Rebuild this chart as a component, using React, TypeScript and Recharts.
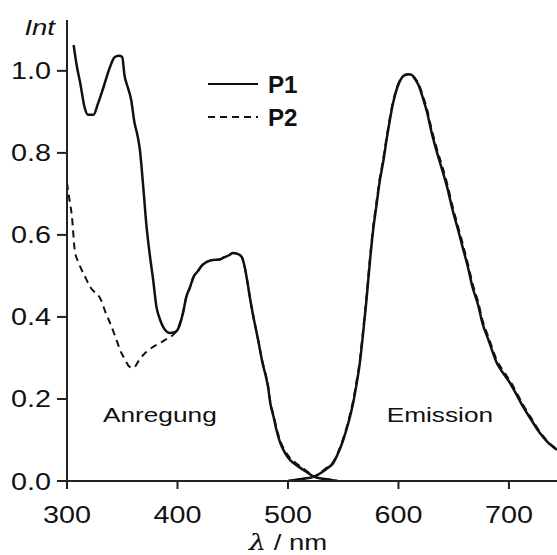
import React from "react";
import { LineChart, Line, XAxis, YAxis, ReferenceDot } from "recharts";

// excitation spectra (Anregung)
const p1ExWl = [306, 309, 312, 316, 319, 324, 328, 333, 339, 343, 347, 350, 352, 355, 358, 361, 364, 366, 369, 372, 375, 378, 381, 384, 387, 390, 393, 397, 400, 405, 408, 411, 415, 418, 422, 427, 432, 438, 442, 447, 450, 454, 458, 461, 463, 466, 468, 471, 473, 477, 480, 482, 484, 487, 490, 493, 497, 502, 508, 514, 519, 524, 530, 535, 540, 545];
const p1Ex = [1.063, 1.01, 0.97, 0.91, 0.893, 0.893, 0.92, 0.96, 1.01, 1.033, 1.037, 1.034, 0.99, 0.96, 0.93, 0.875, 0.84, 0.807, 0.717, 0.62, 0.55, 0.49, 0.424, 0.395, 0.376, 0.365, 0.361, 0.362, 0.368, 0.41, 0.449, 0.47, 0.5, 0.51, 0.525, 0.535, 0.539, 0.54, 0.545, 0.551, 0.556, 0.554, 0.547, 0.52, 0.49, 0.44, 0.41, 0.37, 0.344, 0.287, 0.255, 0.229, 0.19, 0.156, 0.12, 0.093, 0.07, 0.051, 0.038, 0.027, 0.018, 0.01, 0.006, 0.004, 0.002, 0];

const p2ExWl = [300, 302, 304.5, 307, 310, 312, 316, 321, 325, 328, 331, 335, 339, 344, 348, 352, 357, 360, 366, 372, 378, 384, 391, 398, 405, 408, 411, 415, 418, 422, 427, 432, 438, 442, 447, 450, 454, 458, 461, 463, 466, 468, 471, 473, 477, 480, 482, 484, 487, 490, 493, 497, 502, 508, 514, 519, 524, 530, 535, 540, 545];
const p2Ex = [0.727, 0.69, 0.644, 0.563, 0.535, 0.522, 0.5, 0.473, 0.46, 0.454, 0.44, 0.41, 0.385, 0.35, 0.32, 0.298, 0.278, 0.276, 0.298, 0.315, 0.327, 0.336, 0.348, 0.362, 0.41, 0.449, 0.47, 0.5, 0.51, 0.525, 0.535, 0.539, 0.54, 0.545, 0.551, 0.556, 0.554, 0.547, 0.52, 0.49, 0.44, 0.41, 0.37, 0.344, 0.29, 0.258, 0.232, 0.193, 0.16, 0.125, 0.098, 0.075, 0.056, 0.042, 0.03, 0.02, 0.011, 0.006, 0.004, 0.002, 0];

// emission spectra
const emWl = [500, 505, 510, 515, 520, 525, 530, 535, 541, 545, 550, 555, 559, 562, 565, 568, 571, 574, 577, 580, 583, 586, 590, 595, 599, 603, 606, 609, 612, 615, 618, 622, 626, 630, 635, 640, 644, 649, 654, 658, 663, 667, 672, 676, 682, 689, 695, 701, 707, 713, 720, 728, 735, 743.5];
const p1Em = [0, 0.002, 0.004, 0.006, 0.008, 0.012, 0.02, 0.03, 0.044, 0.065, 0.1, 0.145, 0.19, 0.235, 0.287, 0.36, 0.44, 0.53, 0.61, 0.67, 0.73, 0.775, 0.845, 0.92, 0.96, 0.983, 0.99, 0.992, 0.99, 0.98, 0.966, 0.935, 0.898, 0.85, 0.8, 0.755, 0.717, 0.661, 0.612, 0.571, 0.52, 0.473, 0.43, 0.385, 0.34, 0.288, 0.262, 0.239, 0.21, 0.18, 0.15, 0.117, 0.095, 0.076];
const p2Em = [0, 0.002, 0.004, 0.006, 0.008, 0.013, 0.022, 0.032, 0.047, 0.068, 0.104, 0.15, 0.196, 0.242, 0.294, 0.368, 0.448, 0.538, 0.618, 0.678, 0.737, 0.782, 0.85, 0.924, 0.962, 0.984, 0.99, 0.992, 0.99, 0.982, 0.97, 0.94, 0.905, 0.858, 0.808, 0.764, 0.726, 0.67, 0.62, 0.58, 0.528, 0.482, 0.438, 0.393, 0.347, 0.295, 0.268, 0.244, 0.215, 0.185, 0.154, 0.12, 0.097, 0.077];

const xTicks = [300, 400, 500, 600, 700];
const yTicks = [0, 0.2, 0.4, 0.6, 0.8, 1.0];

const toRows = (xs: number[], ys: number[]) => xs.map((x, i) => ({ x, y: ys[i] }));

const FONT = "'Liberation Sans', Arial, Helvetica, sans-serif";
const INK = "#111";
const STRETCH = 1.25;

function XTick({ x, y, payload }: any) {
  return (
    <text transform={`translate(${x},${y + 34}) scale(${STRETCH},1)`} textAnchor="middle" fontSize={23} fontFamily={FONT} fill={INK}>
      {payload.value}
    </text>
  );
}

function YTick({ x, y, payload }: any) {
  return (
    <text transform={`translate(${x},${y + 8.5}) scale(${STRETCH},1)`} textAnchor="end" fontSize={23} fontFamily={FONT} fill={INK}>
      {Number(payload.value).toFixed(1)}
    </text>
  );
}

function AnnoLabel({ viewBox, value }: any) {
  const { x, y, width = 0, height = 0 } = viewBox || {};
  return (
    <text transform={`translate(${x + width / 2},${y + height / 2}) scale(${STRETCH},1)`} textAnchor="middle" fontSize={21} fontFamily={FONT} fill={INK}>
      {value}
    </text>
  );
}

function IntLabel({ viewBox }: any) {
  const { x, y, width } = viewBox || {};
  return (
    <text transform={`translate(${x + width - 12},${y + 15}) scale(${STRETCH},1)`} textAnchor="end" fontSize={22} fontStyle="italic" fontFamily={FONT} fill={INK}>
      Int
    </text>
  );
}

function LambdaLabel({ viewBox }: any) {
  const { x, y, width } = viewBox || {};
  return (
    <text transform={`translate(${x + width / 2 - 24},${y + 69}) scale(${STRETCH},1)`} textAnchor="middle" fontSize={22} fontFamily={FONT} fill={INK}>
      <tspan fontStyle="italic" fontFamily="'DejaVu Serif', serif">λ</tspan> / nm
    </text>
  );
}

const legendItems = [
  { name: "P1", dash: undefined as string | undefined },
  { name: "P2", dash: "7 5" },
];

function LegendBox() {
  return (
    <svg width={110} height={60} style={{ position: "absolute", left: 208, top: 72 }}>
      {legendItems.map((it, i) => (
        <g key={it.name} transform={`translate(0,${i * 33})`}>
          <line x1={0} x2={50} y1={12} y2={12} stroke={INK} strokeWidth={2} strokeDasharray={it.dash} />
          <text transform={`translate(60,21) scale(1.05,1)`} fontSize={23} fontWeight="bold" fontFamily={FONT} fill={INK}>
            {it.name}
          </text>
        </g>
      ))}
    </svg>
  );
}

export default function App() {
  return (
    <div style={{ position: "absolute", left: 0, top: 0, width: 557, height: 555, background: "#fff" }}>
      <LineChart width={557} height={555} margin={{ top: 20, right: 0, left: 0, bottom: 0 }}>
        <XAxis
          type="number"
          dataKey="x"
          domain={[300, 743.5]}
          ticks={xTicks}
          allowDataOverflow
          height={74}
          tickSize={8}
          tickMargin={0}
          tick={<XTick />}
          axisLine={{ stroke: "#222", strokeWidth: 2 }}
          tickLine={{ stroke: "#222", strokeWidth: 2 }}
          label={<LambdaLabel />}
        />
        <YAxis
          type="number"
          dataKey="y"
          domain={[0, 1.124]}
          ticks={yTicks}
          allowDataOverflow
          width={67}
          tickSize={10}
          tickMargin={6}
          tick={<YTick />}
          axisLine={{ stroke: "#222", strokeWidth: 2 }}
          tickLine={{ stroke: "#222", strokeWidth: 2 }}
          label={<IntLabel />}
        />
        <Line data={toRows(p1ExWl, p1Ex)} dataKey="y" name="P1" type="monotone" stroke={INK} strokeWidth={2.5} dot={false} isAnimationActive={false} />
        <Line data={toRows(emWl, p1Em)} dataKey="y" name="P1 em" type="monotone" stroke={INK} strokeWidth={2.5} dot={false} isAnimationActive={false} />
        <Line data={toRows(p2ExWl, p2Ex)} dataKey="y" name="P2" type="monotone" stroke={INK} strokeWidth={2} strokeDasharray="7 5" dot={false} isAnimationActive={false} />
        <Line data={toRows(emWl, p2Em)} dataKey="y" name="P2 em" type="monotone" stroke={INK} strokeWidth={2} strokeDasharray="7 5" dot={false} isAnimationActive={false} />
        <ReferenceDot x={384} y={0.144} r={0} fill="none" stroke="none" label={<AnnoLabel value="Anregung" />} />
        <ReferenceDot x={637.5} y={0.144} r={0} fill="none" stroke="none" label={<AnnoLabel value="Emission" />} />
      </LineChart>
      <LegendBox />
    </div>
  );
}
